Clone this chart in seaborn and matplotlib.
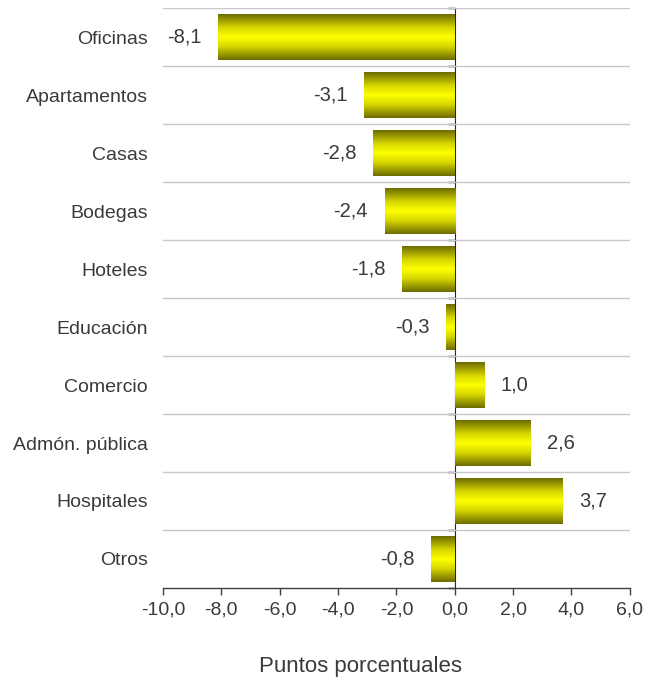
import matplotlib
matplotlib.use("Agg")
import matplotlib.pyplot as plt
from matplotlib.colors import LinearSegmentedColormap
import seaborn as sns
import numpy as np
import pandas as pd

# datos
categorias = ["Oficinas", "Apartamentos", "Casas", "Bodegas", "Hoteles",
              "Educación", "Comercio", "Admón. pública", "Hospitales", "Otros"]
valores = [-8.1, -3.1, -2.8, -2.4, -1.8, -0.3, 1.0, 2.6, 3.7, -0.8]
x_ticks = [-10, -8, -6, -4, -2, 0, 2, 4, 6]

df = pd.DataFrame({"categoria": categorias, "valor": valores})

sns.set_style("white")
plt.rcParams["font.family"] = ["Liberation Sans", "DejaVu Sans"]
texto = "#3a3a3a"

fig = plt.figure(figsize=(6.46, 6.77), dpi=100)
ax = fig.add_axes([0.2523, 0.1315, 0.7227, 0.8565])

sns.barplot(data=df, x="valor", y="categoria", orient="h", color="yellow",
            width=0.79, ax=ax)

xmin, xmax = -10, 6
ymin, ymax = len(categorias) - 0.5, -0.5

# relleno degradado (oscuro en los bordes, amarillo en el centro)
cmap = LinearSegmentedColormap.from_list(
    "oro", [(0, "#6b6b00"), (0.3, "#d8d800"), (0.5, "#ffff00"),
            (0.7, "#d8d800"), (1, "#6b6b00")])
grad = np.linspace(0, 1, 256).reshape(-1, 1)
for p in ax.patches:
    x0, y0 = p.get_x(), p.get_y()
    w, h = p.get_width(), p.get_height()
    im = ax.imshow(grad, cmap=cmap, aspect="auto", interpolation="bilinear",
                   extent=(x0, x0 + w, y0 + h, y0), zorder=2)
    im.set_clip_path(p)
    p.set_facecolor("none")
    p.set_edgecolor("none")

ax.set_xlim(xmin, xmax)
ax.set_ylim(ymin, ymax)

etiquetas = [f"{v:.1f}".replace(".", ",") for v in valores]
ax.bar_label(ax.containers[0], labels=etiquetas, padding=12, fontsize=14.5,
             color=texto)

# ejes
ax.set_xticks(x_ticks)
ax.set_xticklabels([f"{t:.1f}".replace(".", ",") for t in x_ticks])
ax.tick_params(axis="x", bottom=True, direction="out", length=5, width=1,
               color="#404040", labelsize=14, labelcolor=texto, pad=5)
ax.tick_params(axis="y", left=False, labelsize=14, labelcolor=texto, pad=7.5)
ax.set_xlabel("Puntos porcentuales", fontsize=16, color=texto)
ax.xaxis.set_label_coords(0.422, -0.118)
ax.set_ylabel("")

limites = np.arange(-0.5, len(categorias) - 0.5, 1)
ax.set_yticks(limites, minor=True)
ax.tick_params(axis="y", which="minor", left=False)
ax.grid(False)
ax.grid(True, axis="y", which="minor", color="#c8c8c8", linewidth=1)
ax.set_axisbelow(True)

for s in ["left", "right", "top"]:
    ax.spines[s].set_visible(False)
ax.spines["bottom"].set_color("#404040")
ax.spines["bottom"].set_linewidth(1)

# línea del cero con marcas hacia la izquierda
pos_cero = (0 - xmin) / (xmax - xmin)
eje0 = ax.secondary_yaxis(pos_cero)
eje0.set_yticks(list(limites) + [ymin])
eje0.set_yticklabels([])
eje0.yaxis.set_ticks_position("left")
eje0.tick_params(axis="y", left=True, right=False, direction="out",
                 length=5, width=1, color="black")
eje0.spines["left"].set_color("black")
eje0.spines["left"].set_linewidth(1.2)

fig.savefig("out.png", dpi=100)
